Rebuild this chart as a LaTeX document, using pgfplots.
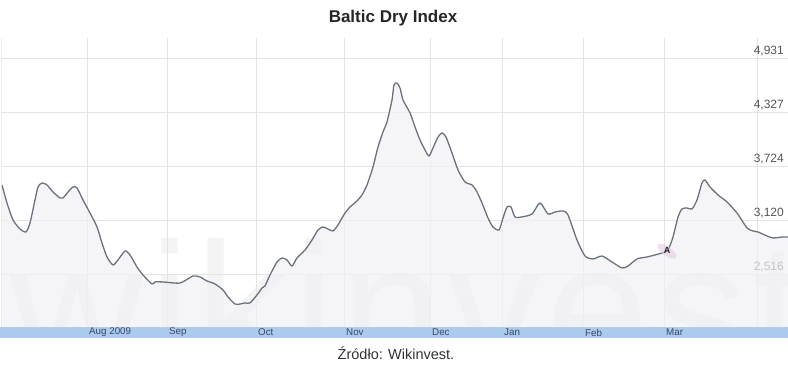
\documentclass[border=0pt]{standalone}
\usepackage{pgfplots}
\usepackage{pgfplotstable}
\pgfplotsset{compat=1.18}
\usetikzlibrary{shapes.geometric}
\usepackage{fontspec}
\setmainfont{Liberation Sans}
\definecolor{linec}{HTML}{6A727E}
\definecolor{fillc}{HTML}{F1F1F4}
\definecolor{barc}{HTML}{ABCAEE}
\definecolor{gridc}{HTML}{E4E4E4}
\definecolor{monthc}{HTML}{3A4868}
\definecolor{ylabc}{HTML}{555555}
\definecolor{wmc}{HTML}{F4F4F4}
\pgfplotstableread{
x y
2 3511
7 3310
13 3120
20 3019
26 2986
30 3086
35 3344
38 3489
42 3534
47 3511
53 3433
60 3366
63 3366
68 3433
73 3489
77 3478
83 3344
90 3198
97 3042
102 2863
107 2706
113 2617
118 2673
125 2773
130 2729
137 2594
143 2505
152 2404
155 2427
163 2427
180 2415
193 2494
200 2482
207 2438
215 2404
223 2337
228 2259
235 2180
240 2180
245 2192
250 2192
257 2281
262 2359
265 2382
270 2505
277 2650
282 2695
287 2673
292 2605
297 2695
305 2784
312 2896
318 3008
323 3042
328 3019
333 2997
338 3064
345 3198
350 3265
357 3333
362 3400
367 3511
373 3713
378 3936
383 4104
387 4216
392 4462
394 4630
397 4652
400 4596
403 4462
410 4317
415 4160
420 4015
425 3903
429 3836
433 3925
438 4048
442 4093
446 4048
452 3869
458 3679
465 3545
472 3511
477 3433
482 3310
488 3142
493 3042
499 3008
503 3142
507 3265
511 3265
515 3154
522 3154
532 3187
540 3310
548 3187
555 3209
563 3221
568 3176
577 2896
585 2717
593 2684
602 2717
612 2650
622 2583
628 2605
637 2684
647 2706
655 2729
662 2751
668 2784
673 2930
678 3154
682 3243
687 3254
692 3243
697 3344
702 3534
705 3567
710 3489
718 3400
727 3321
737 3198
747 3031
753 2997
758 2986
767 2941
773 2919
783 2930
788 2930
}\bdi
\begin{document}
\begin{tikzpicture}[x=1pt,y=1pt]
\path[use as bounding box] (0,0) rectangle (788,368);
\begin{scope}
\clip (2,41) rectangle (788,330);
\node[anchor=base west, text=wmc, font=\fontsize{185}{185}\selectfont\addfontfeature{LetterSpace=3}, inner sep=0pt] at (10,-4) {wikinvest};
\end{scope}
\fill[barc] (0,30) rectangle (788,41);
\begin{axis}[
  at={(2pt,41pt)}, anchor=south west,
  scale only axis, width=786pt, height=289pt,
  xmin=2, xmax=788, ymin=1923, ymax=5155,
  axis line style={draw=none},
  tick style={draw=none},
  grid=major,
  major grid style={gridc, line width=0.8pt},
  xtick={87,167,256,344,430,502,583,664,757},
  xticklabels={Aug 2009,Sep,Oct,Nov,Dec,Jan,Feb,Mar,{}},
  xticklabel style={anchor=west, font=\fontsize{9.8}{10}\selectfont, text=monthc, yshift=-5.5pt, xshift=1pt, inner sep=1pt},
  ytick={2516,3120,3724,4327,4931},
  yticklabels={{2,516},{3,120},{3,724},{4,327},{4,931}},
  yticklabel pos=right,
  yticklabel style={anchor=south east, font=\fontsize{12}{12}\selectfont, text=ylabc, xshift=-3pt, yshift=1pt, inner sep=1pt},
  clip=true,
]
\addplot[fill=fillc, fill opacity=0.7, draw=none, smooth, tension=0.4] table[x=x,y=y] {\bdi} \closedcycle;
\addplot[linec, line width=1.3pt, smooth, tension=0.4] table[x=x,y=y] {\bdi};
\draw[gray!80!black, line width=1pt] (rel axis cs:0,0) -- (rel axis cs:0,1);
\node[fill=violet!20, ellipse, minimum width=22pt, minimum height=7pt, rotate=-35, opacity=0.6] at (axis cs:667,2770) {};
\node[font=\bfseries\fontsize{9}{9}\selectfont, text=black!85, inner sep=0pt] at (axis cs:667,2775) {A};
\end{axis}
\node[font=\bfseries\fontsize{17}{18}\selectfont, text=black!85] at (393,350) {Baltic Dry Index};
\node[font=\fontsize{14.5}{15}\selectfont, text=black!80] at (396,15) {Źródło: Wikinvest.};
\end{tikzpicture}
\end{document}
